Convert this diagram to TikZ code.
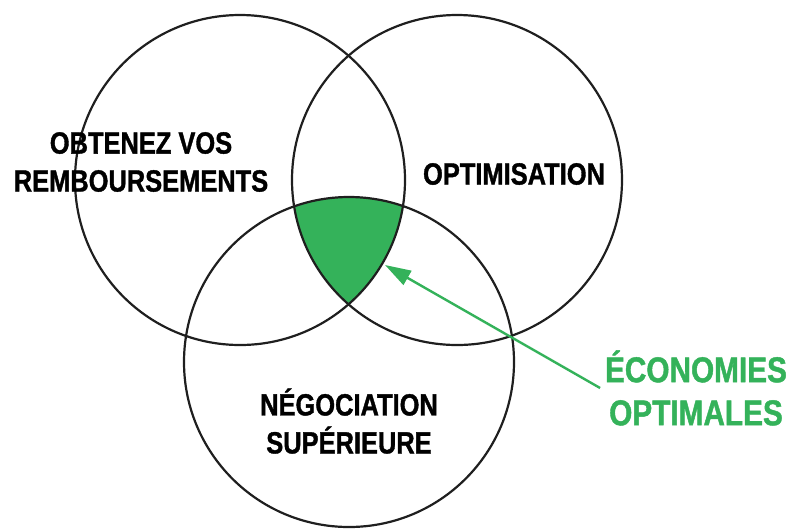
\documentclass[tikz,border=0pt]{standalone}
\usepackage{fontspec}
\setmainfont{Liberation Sans}[FakeStretch=0.83,BoldFeatures={FakeBold=1.2}]
\usepackage{xcolor}
\usetikzlibrary{arrows.meta}
\definecolor{vert}{RGB}{52,178,90}

\begin{document}
\begin{tikzpicture}[x=0.025cm,y=-0.025cm,
  ring/.style={draw=black!88,line width=0.055cm},
  title/.style={font=\fontsize{21.8}{27}\selectfont\bfseries,align=center},
  pointer/.style={draw=vert,line width=0.06cm,-{Triangle[length=0.65cm,width=0.4cm]}}]
\useasboundingbox (0,0) rectangle (791,529);
% circle centres
\coordinate (remb) at (240,180);
\coordinate (optim) at (457,180);
\coordinate (nego) at (349,362);
% common part of the three circles
\begin{scope}
\clip (remb) circle[radius=165];
\clip (optim) circle[radius=165];
\fill[vert] (nego) circle[radius=165];
\end{scope}
\draw[ring] (remb) circle[radius=165];
\draw[ring] (optim) circle[radius=165];
\draw[ring] (nego) circle[radius=165];
% labels
\node[title] (t1) at (141,162) {OBTENEZ VOS\\REMBOURSEMENTS};
\node[title] (t2) at (514,174) {OPTIMISATION};
\node[title] (t3) at (349,421) {NÉGOCIATION\\SUPÉRIEURE};
\node[title,font=\fontsize{25.5}{30.6}\selectfont\bfseries,text=vert] (eco) at (696,388) {ÉCONOMIES\\OPTIMALES};
\coordinate (tip) at (385,265);
\draw[pointer] (eco.west) -- (tip);
\end{tikzpicture}
\end{document}
